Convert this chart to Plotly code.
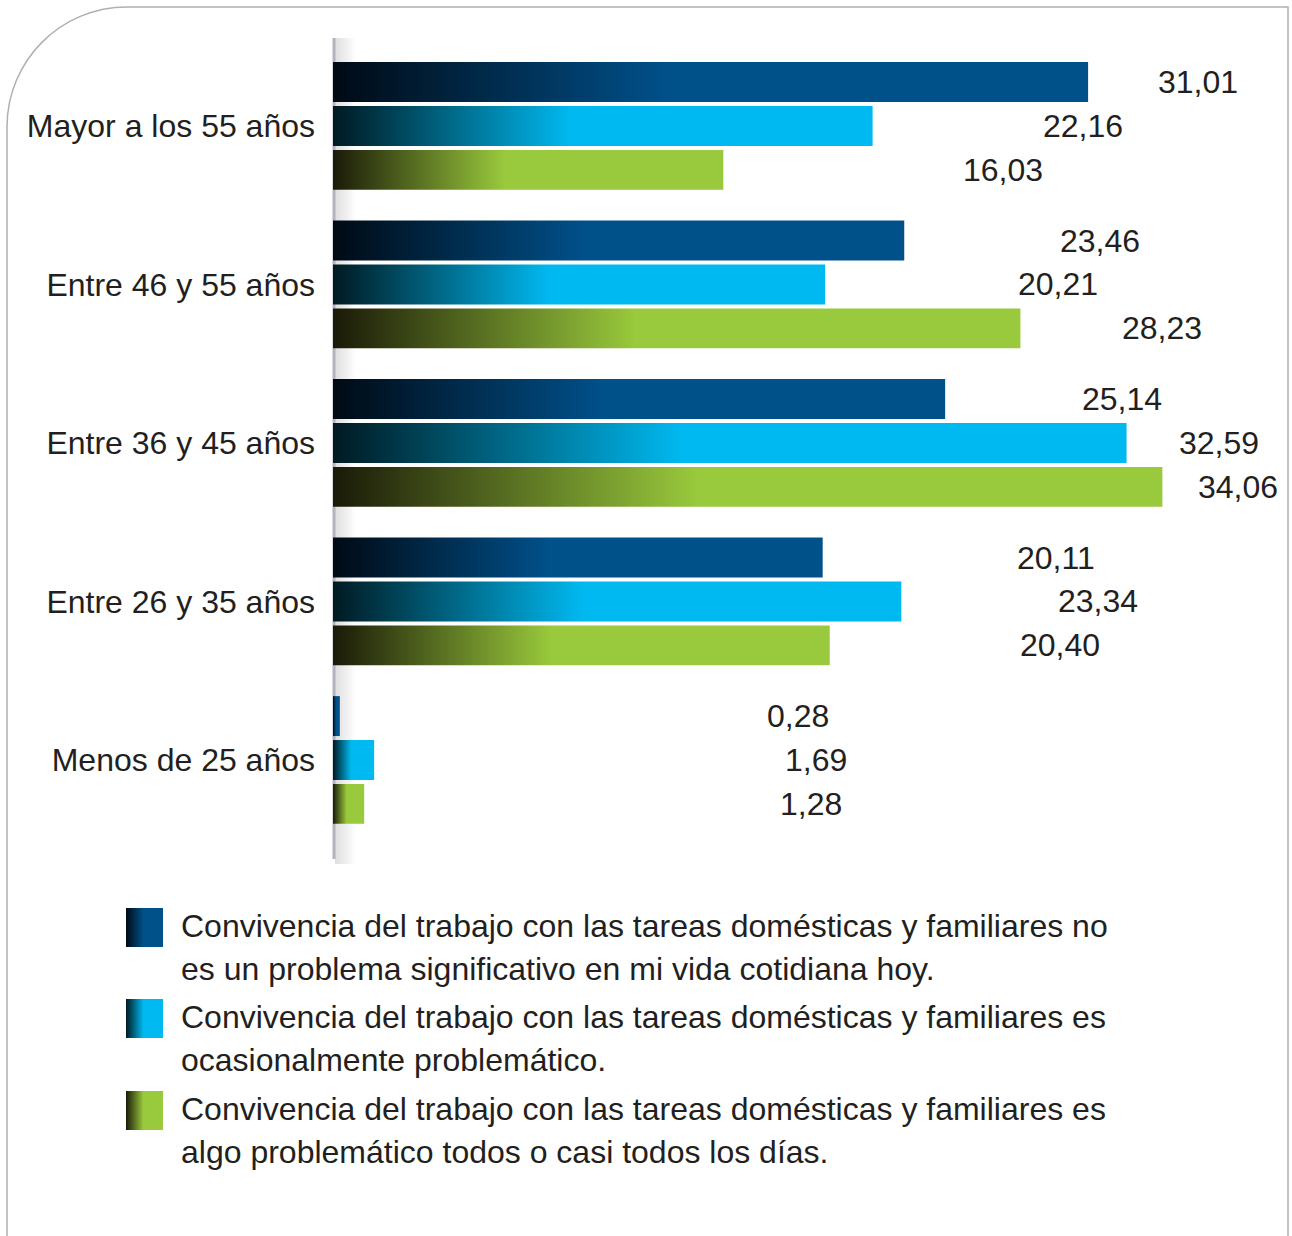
import plotly.graph_objects as go

# ---------------- data ----------------
categories = ["Mayor a los 55 años", "Entre 46 y 55 años", "Entre 36 y 45 años",
              "Entre 26 y 35 años", "Menos de 25 años"]
no_problema = [31.01, 23.46, 25.14, 20.11, 0.28]
ocasional = [22.16, 20.21, 32.59, 23.34, 1.69]
casi_diario = [16.03, 28.23, 34.06, 20.40, 1.28]

series_names = [
    ["Convivencia del trabajo con las tareas domésticas y familiares no",
     "es un problema significativo en mi vida cotidiana hoy."],
    ["Convivencia del trabajo con las tareas domésticas y familiares es",
     "ocasionalmente problemático."],
    ["Convivencia del trabajo con las tareas domésticas y familiares es",
     "algo problemático todos o casi todos los días."],
]

# ---------------- style ----------------
W, H = 1292, 1236
FONT = "Liberation Sans, Arial, sans-serif"
TXT = "#231f20"
FS = 32
dark_cols = ["#000a14", "#001a22", "#1a1a08"]
full_cols = ["#00508a", "#00b9f0", "#99c93c"]
series = [no_problema, ocasional, casi_diario]

def cscale(i):
    return [[0, dark_cols[i]], [0.44, full_cols[i]], [1, full_cols[i]]]

fig = go.Figure()

# pixel-space helper axes (x, y) used for frame, axis line, shadow, legend
fig.add_trace(go.Scatter(x=[335, 356, 356, 335, 335], y=[38, 38, 864, 864, 38],
                         fill="toself", mode="lines", line=dict(width=0),
                         fillgradient=dict(type="horizontal",
                                           colorscale=[[0, "rgba(0,0,0,0.13)"], [1, "rgba(0,0,0,0)"]]),
                         hoverinfo="skip", showlegend=False, xaxis="x", yaxis="y"))
fig.add_trace(go.Scatter(x=[334, 334], y=[38, 859], mode="lines",
                         line=dict(color="#b4b4bc", width=3),
                         hoverinfo="skip", showlegend=False, xaxis="x", yaxis="y"))

# legend squares
leg_tops = [908, 999, 1091]
for i, top in enumerate(leg_tops):
    fig.add_trace(go.Scatter(x=[126, 163, 163, 126, 126], y=[top, top, top + 39, top + 39, top],
                             fill="toself", mode="lines", line=dict(width=0),
                             fillgradient=dict(type="horizontal",
                                               colorscale=[[0, dark_cols[i]], [0.47, full_cols[i]], [1, full_cols[i]]]),
                             hoverinfo="skip", showlegend=False, xaxis="x", yaxis="y"))

# bars (data axes x2, y2)
offsets = [-0.277, 0.0, 0.277]
half = 0.126
annotations = []
for s, vals in enumerate(series):
    for g, v in enumerate(vals):
        yc = g + offsets[s]
        fig.add_trace(go.Scatter(
            x=[0, v, v, 0, 0], y=[yc - half, yc - half, yc + half, yc + half, yc - half],
            fill="toself", mode="lines", line=dict(width=0),
            fillgradient=dict(type="horizontal", colorscale=cscale(s)),
            hoverinfo="skip", showlegend=False, xaxis="x2", yaxis="y2"))
        annotations.append(dict(
            x=18.95 + 0.535 * v, y=yc, xref="x2", yref="y2",
            text=f"{v:.2f}".replace(".", ","), showarrow=False,
            xanchor="center", yanchor="middle",
            font=dict(family=FONT, size=FS, color=TXT)))

# legend text
for i, top in enumerate(leg_tops):
    for j, line in enumerate(series_names[i]):
        annotations.append(dict(
            x=179, y=top + 18 + 42.5 * j, xref="x", yref="y", text=line, showarrow=False,
            xanchor="left", yanchor="middle",
            font=dict(family=FONT, size=FS, color=TXT)))

# frame with rounded top-left corner
r = 120
k = 0.5523 * r
frame = (f"M 7,{H} L 7,{7 + r} C 7,{7 + r - k} {7 + r - k},7 {7 + r},7 "
         f"L 1288,7 L 1288,{H}")

x2max = (W - 333) / 24.35
fig.update_layout(
    width=W, height=H,
    margin=dict(l=0, r=0, t=0, b=0),
    paper_bgcolor="white", plot_bgcolor="rgba(0,0,0,0)",
    showlegend=False,
    xaxis=dict(domain=[0, 1], range=[0, W], visible=False, fixedrange=True),
    yaxis=dict(domain=[0, 1], range=[H, 0], visible=False, fixedrange=True),
    xaxis2=dict(domain=[333 / W, 1], range=[0, x2max], visible=False, fixedrange=True,
                anchor="y2"),
    yaxis2=dict(domain=[1 - 857 / H, 1 - 38 / H], range=[4.612, -0.555], anchor="x2",
                tickvals=list(range(len(categories))), ticktext=categories,
                ticks="", showline=False, showgrid=False, zeroline=False,
                ticklabelstandoff=17, automargin=False, fixedrange=True,
                tickfont=dict(family=FONT, size=FS, color=TXT)),
    shapes=[dict(type="path", path=frame, xref="x", yref="y",
                 line=dict(color="#b0b0b0", width=1.5), layer="below")],
    annotations=annotations,
    font=dict(family=FONT, color=TXT),
)

fig.write_html("out.html", config={"displayModeBar": False})
